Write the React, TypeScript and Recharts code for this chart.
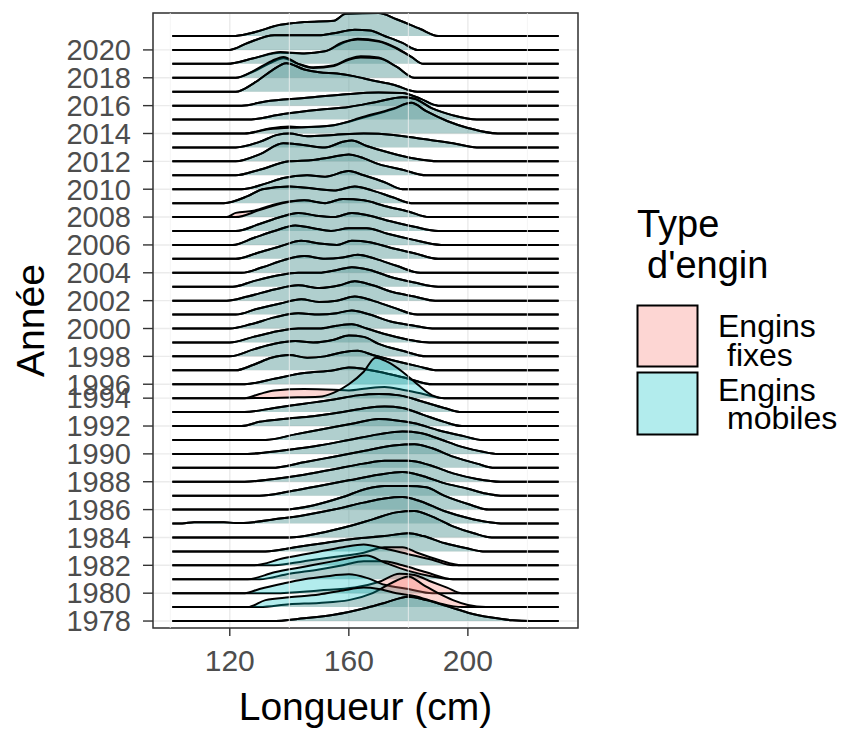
import React from 'react';
import { ComposedChart, Area, XAxis, YAxis, CartesianGrid, ReferenceLine, ReferenceArea, Label } from 'recharts';

// years present in the data (1995 is missing, so 1994 and 1996 sit next to each other)
const YEARS = [
  1978, 1979, 1980, 1981, 1982, 1983, 1984, 1985, 1986, 1987, 1988, 1989, 1990, 1991, 1992, 1993, 1994,
  1996, 1997, 1998, 1999, 2000, 2001, 2002, 2003, 2004, 2005, 2006, 2007, 2008, 2009, 2010, 2011, 2012,
  2013, 2014, 2015, 2016, 2017, 2018, 2019, 2020, 2021,
];
const Y_TICK_YEARS = [
  1978, 1980, 1982, 1984, 1986, 1988, 1990, 1992, 1994, 1996, 1998, 2000, 2002, 2004, 2006, 2008, 2010,
  2012, 2014, 2016, 2018, 2020,
];
const X_TICKS = [120, 160, 200];
const X_MINOR = [100, 140, 180, 220];
const X_RANGE = [100.7, 230.5];

// ridge outlines, [length (cm), height in rows], one list per year (same order as YEARS)
const MOBILES: [number, number][][] = [
  [[134, 0], [145, 0.2], [155, 0.45], [165, 0.9], [172, 1.3], [180, 1.75], [186, 1.5], [194, 1.0], [200, 0.6], [208, 0.25], [215, 0.05], [221, 0]],
  [[126, 0], [132, 0.5], [140, 0.7], [150, 0.9], [158, 1.2], [165, 1.4], [170, 1.3], [176, 1.0], [182, 0.8], [190, 0.3], [198, 0]],
  [[125, 0], [130, 0.3], [138, 0.7], [145, 1.0], [152, 1.2], [160, 1.35], [166, 1.1], [172, 0.6], [180, 0.3], [188, 0]],
  [[126, 0], [135, 0.5], [145, 0.9], [155, 1.3], [162, 1.6], [166, 1.7], [172, 1.2], [180, 0.6], [188, 0.2], [195, 0]],
  [[128, 0], [138, 0.5], [148, 0.9], [158, 1.3], [165, 1.5], [172, 1.2], [180, 0.8], [188, 0.4], [195, 0]],
  [[132, 0], [142, 0.3], [152, 0.6], [162, 0.9], [172, 1.1], [180, 1.3], [185, 1.1], [192, 0.6], [200, 0.2], [205, 0]],
  [[140, 0], [150, 0.3], [160, 0.8], [168, 1.3], [176, 1.8], [182, 1.9], [188, 1.5], [195, 0.8], [202, 0.3], [208, 0]],
  [[104, 0], [108, 0.1], [118, 0.1], [122, 0.03], [128, 0.1], [135, 0.3], [145, 0.6], [155, 1.0], [165, 1.5], [172, 1.8], [178, 1.9], [184, 1.6], [192, 0.9], [200, 0.4], [207, 0.1], [212, 0]],
  [[138, 0], [148, 0.3], [158, 0.9], [166, 1.5], [172, 1.7], [180, 1.7], [186, 1.6], [192, 1.0], [200, 0.4], [207, 0]],
  [[130, 0], [140, 0.3], [150, 0.7], [160, 1.1], [170, 1.5], [178, 1.7], [185, 1.4], [192, 0.9], [200, 0.5], [206, 0.15], [211, 0]],
  [[125, 0], [135, 0.2], [145, 0.5], [155, 0.9], [165, 1.3], [172, 1.5], [180, 1.5], [187, 1.2], [195, 0.6], [203, 0.2], [211, 0]],
  [[134, 0], [145, 0.4], [155, 0.8], [165, 1.2], [175, 1.6], [182, 1.7], [188, 1.4], [195, 0.8], [203, 0.3], [209, 0]],
  [[126, 0], [132, 0.1], [140, 0.3], [150, 0.6], [160, 1.0], [170, 1.4], [178, 1.6], [184, 1.5], [190, 1.1], [198, 0.5], [205, 0.15], [210, 0]],
  [[132, 0], [142, 0.4], [152, 0.8], [162, 1.2], [170, 1.5], [176, 1.4], [182, 1.2], [190, 0.7], [198, 0.3], [205, 0]],
  [[124, 0], [130, 0.3], [138, 0.5], [148, 0.7], [158, 1.0], [166, 1.3], [172, 1.4], [178, 1.3], [185, 0.8], [192, 0.3], [198, 0]],
  [[125, 0], [135, 0.3], [145, 0.6], [155, 0.9], [163, 1.2], [170, 1.3], [177, 1.2], [184, 0.8], [192, 0.3], [198, 0]],
  [[125, 0], [140, 0.05], [150, 0.1], [155, 0.4], [160, 1.0], [165, 1.9], [169, 2.9], [173, 2.6], [178, 1.9], [183, 1.0], [188, 0.2], [192, 0]],
  [[125, 0], [135, 0.4], [145, 0.8], [155, 1.0], [160, 1.2], [165, 1.1], [172, 0.8], [180, 0.4], [188, 0]],
  [[122, 0], [128, 0.4], [134, 0.9], [140, 1.1], [146, 0.9], [152, 1.0], [158, 1.3], [163, 1.4], [168, 1.1], [175, 0.7], [183, 0.3], [190, 0]],
  [[120, 0], [128, 0.5], [135, 0.9], [142, 1.1], [148, 1.0], [155, 1.2], [160, 1.5], [165, 1.4], [170, 0.9], [178, 0.4], [186, 0]],
  [[120, 0], [128, 0.4], [136, 0.8], [143, 1.0], [150, 1.0], [156, 1.2], [161, 1.3], [166, 1.0], [172, 0.6], [180, 0.2], [187, 0]],
  [[120, 0], [127, 0.3], [135, 0.8], [143, 1.1], [150, 1.0], [156, 1.1], [161, 1.3], [167, 1.0], [174, 0.5], [182, 0.2], [188, 0]],
  [[122, 0], [129, 0.4], [137, 0.8], [144, 1.1], [150, 0.9], [156, 1.0], [162, 1.3], [168, 1.0], [175, 0.5], [183, 0]],
  [[119, 0], [126, 0.3], [135, 0.8], [143, 1.1], [150, 0.9], [157, 1.1], [162, 1.4], [168, 1.1], [175, 0.6], [182, 0.3], [189, 0]],
  [[121, 0], [128, 0.4], [136, 0.8], [143, 1.0], [150, 1.0], [156, 1.2], [161, 1.4], [167, 1.2], [174, 0.7], [182, 0.3], [190, 0]],
  [[124, 0], [131, 0.4], [138, 0.9], [145, 1.2], [152, 1.0], [158, 1.1], [163, 1.3], [169, 1.0], [176, 0.5], [184, 0]],
  [[122, 0], [129, 0.4], [137, 0.9], [144, 1.3], [150, 1.1], [156, 1.0], [161, 1.3], [167, 1.2], [174, 0.8], [182, 0.4], [190, 0]],
  [[121, 0], [128, 0.5], [135, 1.0], [142, 1.4], [148, 1.2], [154, 1.0], [160, 1.2], [166, 1.2], [173, 0.8], [181, 0.4], [191, 0]],
  [[122, 0], [130, 0.5], [137, 1.0], [143, 1.3], [149, 1.1], [155, 1.0], [161, 1.3], [167, 1.1], [174, 0.7], [182, 0.3], [190, 0]],
  [[122, 0], [130, 0.5], [138, 1.0], [145, 1.2], [152, 1.0], [158, 1.3], [165, 1.2], [172, 0.8], [180, 0.4], [187, 0]],
  [[118, 0], [126, 0.5], [131, 1.0], [140, 1.2], [150, 1.0], [155, 0.9], [162, 1.2], [168, 0.9], [175, 0.4], [181, 0]],
  [[124, 0], [132, 0.4], [138, 0.8], [146, 1.0], [152, 0.9], [160, 1.3], [165, 1.0], [172, 0.5], [178, 0]],
  [[122, 0], [130, 0.4], [140, 1.0], [148, 1.1], [154, 1.3], [160, 1.5], [164, 1.3], [170, 0.8], [178, 0.4], [186, 0]],
  [[122, 0], [130, 0.5], [138, 1.3], [144, 1.2], [152, 1.0], [158, 1.4], [161, 1.5], [166, 1.1], [174, 0.6], [182, 0.2], [190, 0]],
  [[122, 0], [130, 0.4], [136, 0.9], [140, 1.0], [146, 0.8], [155, 0.9], [165, 1.0], [175, 0.9], [185, 0.6], [195, 0.3], [203, 0]],
  [[125, 0], [133, 0.3], [145, 0.45], [155, 0.6], [165, 1.2], [175, 1.8], [181, 2.2], [186, 1.6], [193, 0.9], [200, 0.4], [210, 0]],
  [[126, 0], [138, 0.4], [150, 0.7], [160, 0.9], [170, 1.3], [178, 1.6], [182, 1.5], [188, 0.8], [195, 0.3], [203, 0]],
  [[124, 0], [132, 0.3], [145, 0.55], [158, 0.8], [170, 0.95], [178, 0.9], [184, 0.5], [190, 0]],
  [[122, 0], [128, 0.6], [134, 1.5], [139, 2.05], [145, 1.6], [150, 1.4], [156, 1.3], [162, 1.1], [168, 0.8], [175, 0.5], [183, 0]],
  [[122, 0], [128, 0.5], [134, 1.2], [138, 1.5], [143, 1.0], [148, 0.7], [155, 0.85], [160, 1.3], [164, 1.45], [170, 1.4], [176, 0.8], [182, 0]],
  [[119, 0], [128, 0.4], [137, 0.85], [145, 0.75], [152, 0.9], [158, 1.55], [163, 1.75], [170, 1.6], [176, 1.1], [181, 0.5], [185, 0]],
  [[120, 0], [126, 0.5], [135, 1.05], [150, 1.05], [155, 1.2], [162, 1.45], [167, 1.4], [172, 1.0], [178, 0.5], [183, 0]],
  [[121, 0], [127, 0.2], [137, 0.8], [145, 1.0], [155, 1.1], [159, 1.6], [170, 1.65], [176, 1.2], [184, 0.5], [190, 0]],
];

// fixed gear: null where the outline can't be told apart from the mobile one
const FIXES: ([number, number][] | null)[] = [
  null,
  [[130, 0], [140, 0.2], [150, 0.3], [160, 0.5], [168, 1.0], [175, 1.8], [180, 2.2], [185, 1.6], [190, 1.0], [195, 0.5], [200, 0.15], [206, 0]],
  [[135, 0], [150, 0.2], [162, 0.4], [170, 0.8], [177, 1.4], [182, 1.3], [188, 0.8], [193, 0.4], [198, 0]],
  [[130, 0], [140, 0.4], [150, 0.7], [158, 1.0], [165, 1.3], [172, 1.3], [178, 1.0], [186, 0.5], [195, 0]],
  [[135, 0], [145, 0.3], [155, 0.6], [165, 0.9], [172, 1.3], [178, 1.3], [183, 0.9], [190, 0.4], [198, 0]],
  null, null, null, null, null, null, null, null, null, null, null,
  [[125, 0], [130, 0.3], [135, 0.55], [145, 0.65], [155, 0.6], [160, 0.55], [166, 0.7], [172, 0.8], [178, 0.6], [185, 0.3], [192, 0]],
  null, null, null, null, null, null, null, null, null, null, null, null,
  [[119, 0], [122, 0.3], [128, 0.45], [135, 0.9], [145, 1.2], [152, 1.0], [158, 1.3], [165, 1.2], [172, 0.8], [180, 0.4], [187, 0]],
  null, null, null, null, null,
  [[125, 0], [133, 0.35], [140, 0.5], [145, 0.45], [155, 0.6], [165, 1.15], [175, 1.75], [181, 2.2], [186, 1.6], [193, 0.9], [200, 0.4], [210, 0]],
  null, null, null,
  [[122, 0], [128, 0.45], [134, 1.1], [138, 1.4], [143, 1.0], [148, 0.75], [155, 0.9], [160, 1.35], [164, 1.55], [170, 1.45], [176, 0.8], [182, 0]],
  [[119, 0], [128, 0.4], [137, 0.8], [145, 0.75], [152, 0.9], [158, 1.5], [163, 1.8], [170, 1.65], [176, 1.15], [181, 0.5], [185, 0]],
  null, null,
];

const FONT = '"Liberation Sans", Arial, sans-serif';
const PINK = '#F8766D';
const CYAN = '#00BFC4';

function ridgeRows(row: number, profile: [number, number][]) {
  return [
    { x: X_RANGE[0], v: row },
    ...profile.map(([x, h]) => ({ x, v: row + h })),
    { x: X_RANGE[1], v: row },
  ];
}

export default function App() {
  const yTicks = Y_TICK_YEARS.map((y) => YEARS.indexOf(y));
  const order = YEARS.map((_, i) => i).reverse();

  return (
    <div style={{ position: 'absolute', left: 0, top: 0, width: 849, height: 734, background: '#fff', fontFamily: FONT }}>
      <ComposedChart width={849} height={734} margin={{ top: 13, right: 271, bottom: 0, left: 0 }}>
        <CartesianGrid stroke="#EBEBEB" strokeWidth={1.4} />
        {X_MINOR.map((x) => (
          <ReferenceLine key={x} x={x} stroke="#F2F2F2" strokeWidth={0.8} />
        ))}
        <XAxis
          type="number"
          dataKey="x"
          domain={[94.2, 237]}
          allowDataOverflow
          ticks={X_TICKS}
          height={106}
          tickSize={8}
          tickMargin={14}
          axisLine={false}
          tickLine={{ stroke: '#333333', strokeWidth: 1.4 }}
          tick={{ fill: '#4D4D4D', fontSize: 30, fontFamily: FONT }}
        >
          <Label value="Longueur (cm)" position="insideBottom" offset={14} fill="#000" fontSize={39} fontFamily={FONT} />
        </XAxis>
        <YAxis
          type="number"
          domain={[-0.5, 43.65]}
          allowDataOverflow
          ticks={yTicks}
          interval={0}
          tickFormatter={(i: number) => String(YEARS[i])}
          width={153}
          tickSize={10}
          tickMargin={12}
          axisLine={false}
          tickLine={{ stroke: '#333333', strokeWidth: 1.4 }}
          tick={{ fill: '#4D4D4D', fontSize: 29, fontFamily: FONT }}
        >
          <Label
            content={(props: any) => {
              const vb = props.viewBox || { x: 0, y: 13, width: 153, height: 615 };
              const cx = vb.x + 44;
              const cy = vb.y + vb.height / 2;
              return (
                <text x={cx} y={cy} transform={`rotate(-90 ${cx} ${cy})`} textAnchor="middle" fontSize={39} fontFamily={FONT} fill="#000">
                  Année
                </text>
              );
            }}
          />
        </YAxis>
        {order.flatMap((i) => [
          <Area
            key={`f${YEARS[i]}`}
            data={ridgeRows(i, FIXES[i] ?? MOBILES[i])}
            dataKey="v"
            baseValue={i}
            type="monotone"
            fill={PINK}
            fillOpacity={0.3}
            stroke="#000"
            strokeWidth={2}
            dot={false}
            activeDot={false}
            isAnimationActive={false}
          />,
          <Area
            key={`m${YEARS[i]}`}
            data={ridgeRows(i, MOBILES[i])}
            dataKey="v"
            baseValue={i}
            type="monotone"
            fill={CYAN}
            fillOpacity={0.3}
            stroke="#000"
            strokeWidth={2}
            dot={false}
            activeDot={false}
            isAnimationActive={false}
          />,
        ])}
        <ReferenceArea x1={94.2} x2={237} y1={-0.5} y2={43.65} fill="none" stroke="#333333" strokeWidth={1.5} ifOverflow="visible" />
      </ComposedChart>

      <svg width={849} height={734} style={{ position: 'absolute', left: 0, top: 0, pointerEvents: 'none' }} fontFamily={FONT}>
        <text x={637} y={237} fontSize={38} fill="#000">Type</text>
        <text x={647} y={278} fontSize={38} fill="#000">d'engin</text>
        <rect x={637.5} y={305.5} width={60} height={61} fill={PINK} fillOpacity={0.3} stroke="#000" strokeWidth={2} />
        <rect x={637.5} y={372.5} width={60} height={62} fill={CYAN} fillOpacity={0.3} stroke="#000" strokeWidth={2} />
        <text x={718} y={337} fontSize={32} fill="#000">Engins</text>
        <text x={727} y={366} fontSize={32} fill="#000">fixes</text>
        <text x={718} y={401} fontSize={32} fill="#000">Engins</text>
        <text x={727} y={429} fontSize={32} fill="#000">mobiles</text>
      </svg>
    </div>
  );
}
